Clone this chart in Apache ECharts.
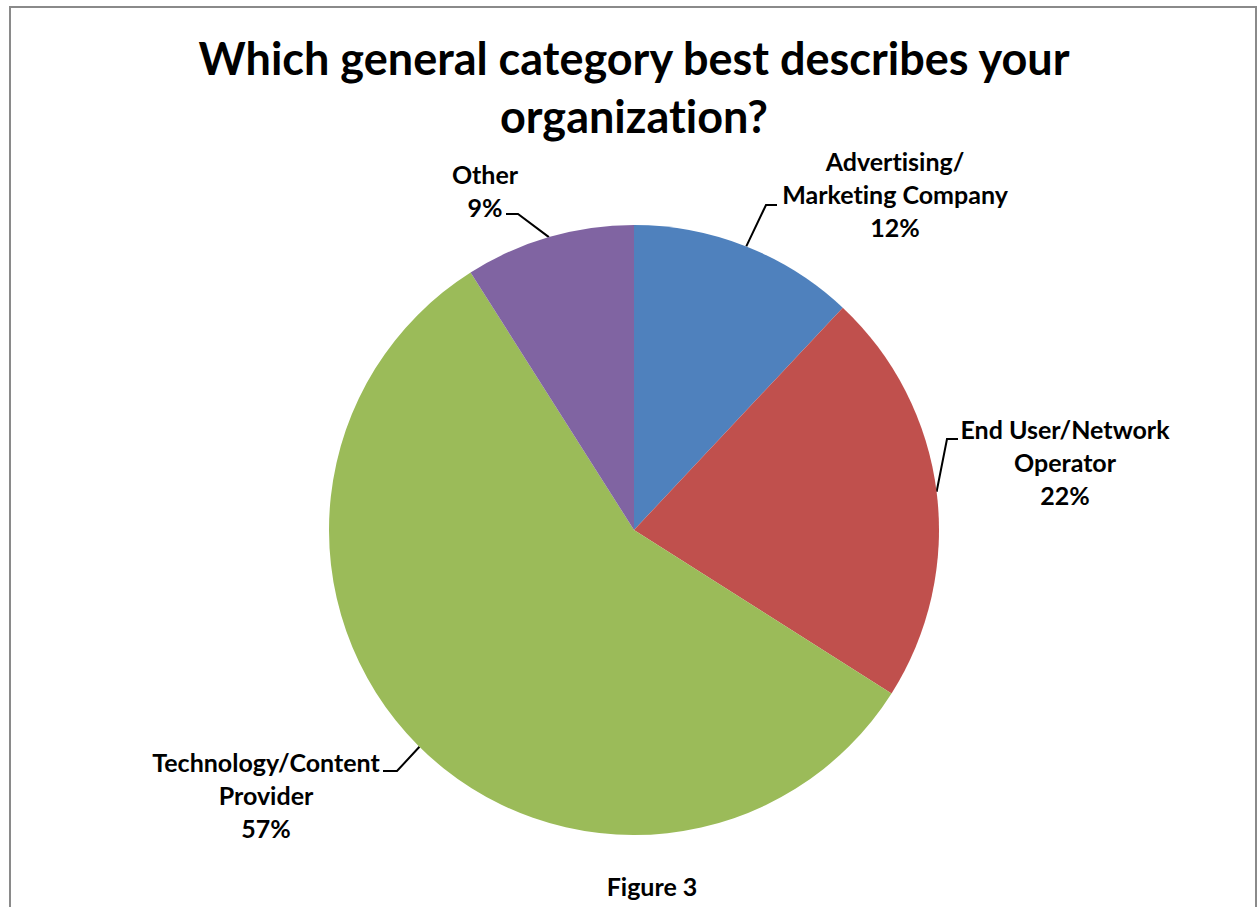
<!DOCTYPE html>
<html>
<head>
<meta charset="utf-8">
<title>Which general category best describes your organization?</title>
<script src="https://cdn.jsdelivr.net/npm/echarts@6/dist/echarts.min.js"></script>
<style>
  html, body { margin: 0; padding: 0; background: #fff; }
  #chart { width: 1257px; height: 907px; }
  #chart svg text { font-variant-ligatures: none; font-feature-settings: "liga" 0, "clig" 0; }
</style>
</head>
<body>
<div id="chart"></div>
<script>
// Survey answers, share of respondents in percent
const categories = ['Advertising/\nMarketing Company', 'End User/Network\nOperator', 'Technology/Content\nProvider', 'Other'];
const shares = [12, 22, 57, 9];
const colors = ['#4F81BD', '#C0504D', '#9BBB59', '#8064A2'];

const titleText = 'Which general category best describes your\norganization?';
const captionText = 'Figure 3';

// Pie geometry (pixels)
const CENTER = [634, 530];
const RADIUS = 305;

// Label block centres and leader-line anchors (pixels), per slice
const labelSpots = [
  { x: 895, y: 194, end: [777, 205], elbowDx: -11 },
  { x: 1065, y: 462, end: [958, 439], elbowDx: -11 },
  { x: 266, y: 795, end: [383, 771], elbowDx: 14, angle: 224.7 },
  { x: 485, y: 190, end: [506, 214], elbowDx: 12 }
];

// Mid-angle of every slice, degrees clockwise from 12 o'clock
const total = shares.reduce((a, b) => a + b, 0);
const midAngles = [];
let acc = 0;
shares.forEach(v => {
  midAngles.push((acc + v / 2) / total * 360);
  acc += v;
});

function edgePoint(deg) {
  const a = deg * Math.PI / 180;
  return [CENTER[0] + RADIUS * Math.sin(a), CENTER[1] - RADIUS * Math.cos(a)];
}

const chart = echarts.init(document.getElementById('chart'), null, { renderer: 'svg' });

const FONT = 'Lato, "Open Sans", sans-serif';

const labelFont = {
  fontFamily: FONT,
  fontWeight: 'bold',
  fontSize: 25,
  lineHeight: 33,
  color: '#000'
};

chart.setOption({
  backgroundColor: '#fff',
  animation: false,
  title: [
    {
      text: titleText,
      left: 634,
      top: 29,
      padding: 0,
      textAlign: 'center',
      textStyle: {
        fontFamily: FONT,
        fontWeight: 'bold',
        fontSize: 45,
        lineHeight: 58,
        color: '#000'
      }
    },
    {
      text: captionText,
      left: 652,
      top: 873,
      padding: 0,
      textAlign: 'center',
      textStyle: {
        fontFamily: FONT,
        fontWeight: 'bold',
        fontSize: 25,
        color: '#000'
      }
    }
  ],
  graphic: [
    {
      type: 'rect',
      silent: true,
      shape: { x: 10, y: 7, width: 1246, height: 960 },
      style: { fill: 'none', stroke: '#8a8a8a', lineWidth: 2 }
    }
  ],
  series: [
    {
      type: 'pie',
      center: CENTER,
      radius: RADIUS,
      startAngle: 90,
      clockwise: true,
      avoidLabelOverlap: false,
      color: colors,
      itemStyle: { borderWidth: 0 },
      emphasis: { disabled: true },
      data: categories.map((name, i) => ({ name: name, value: shares[i] })),
      label: Object.assign({
        show: true,
        position: 'outside',
        align: 'center',
        formatter: '{b}\n{c}%'
      }, labelFont),
      labelLine: {
        show: true,
        smooth: false,
        lineStyle: { color: '#000', width: 2 }
      },
      labelLayout: function (params) {
        const s = labelSpots[params.dataIndex];
        const start = edgePoint(s.angle != null ? s.angle : midAngles[params.dataIndex]);
        const elbow = [s.end[0] + s.elbowDx, s.end[1]];
        return {
          x: s.x,
          y: s.y,
          align: 'center',
          verticalAlign: 'middle',
          labelLinePoints: [start, elbow, s.end]
        };
      }
    }
  ]
});
</script>
</body>
</html>
